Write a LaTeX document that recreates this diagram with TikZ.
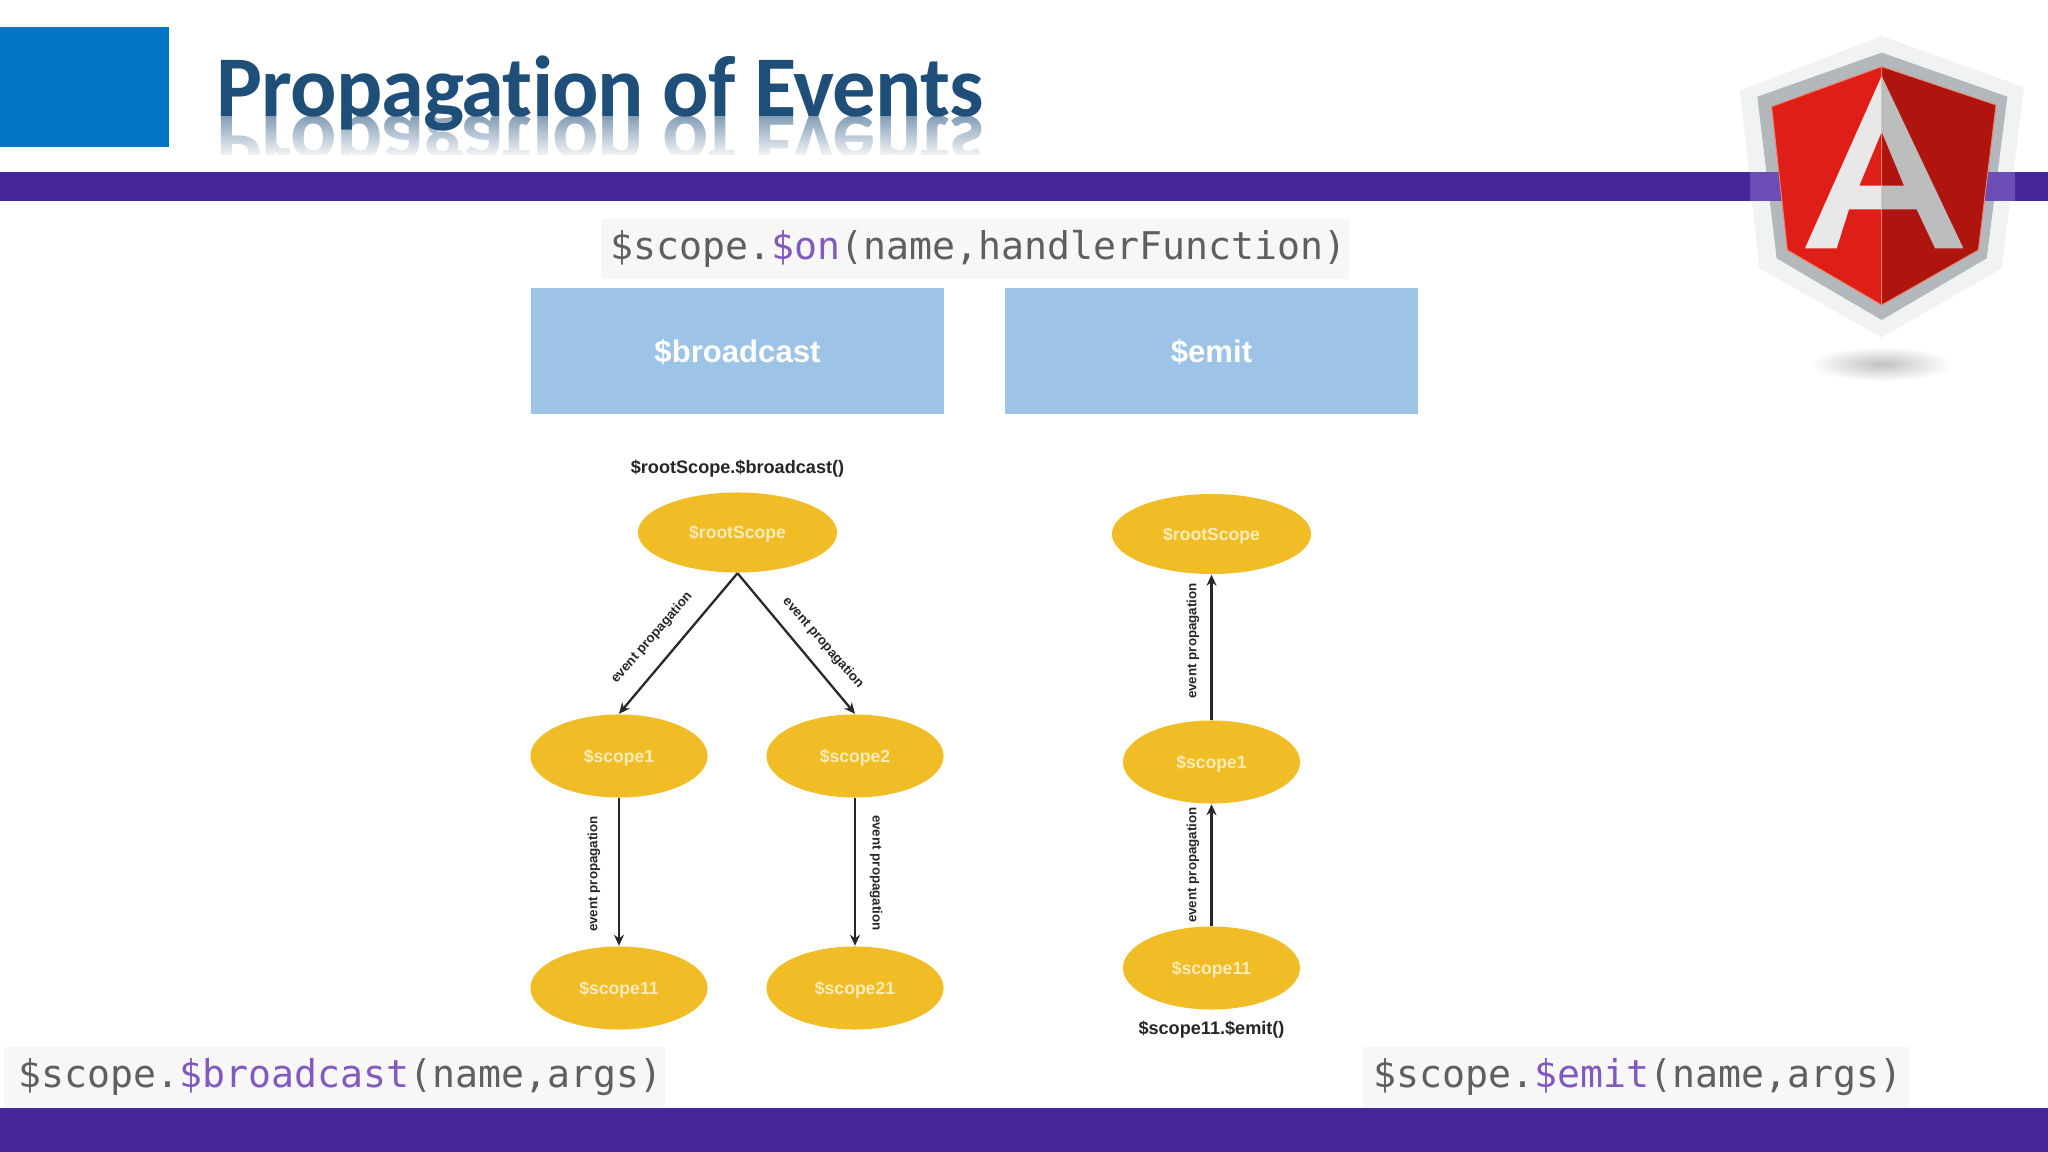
\documentclass[tikz,border=0pt]{standalone}
\usepackage{fontspec}
\setmainfont{Liberation Sans}
\newfontfamily\titlefont[LetterSpace=-1.1, RawFeature={-liga;-clig}]{Carlito}
\newfontfamily\codefont{DejaVu Sans Mono}
\definecolor{myBarColor}{RGB}{70,39,155}
\definecolor{myBarLight}{RGB}{106,78,181}
\definecolor{myBlockColor}{RGB}{0,117,196}
\definecolor{myTitleColor}{RGB}{31,78,121}
\definecolor{myHeadColor}{RGB}{157,195,230}
\definecolor{myScopeColor}{RGB}{240,189,39}
\definecolor{myScopeText}{RGB}{252,236,185}
\definecolor{myCodeColor}{RGB}{95,95,95}
\definecolor{myMethodColor}{RGB}{130,90,190}
\definecolor{myCodeBack}{RGB}{247,247,247}
\definecolor{myLineColor}{RGB}{40,40,40}
\definecolor{myHaloColor}{RGB}{241,243,243}
\definecolor{myBandColor}{RGB}{178,184,187}
\definecolor{myRedLeft}{RGB}{224,30,24}
\definecolor{myRedRight}{RGB}{176,20,14}
\definecolor{myRedEdge}{RGB}{240,130,105}
\definecolor{myLetterLeft}{RGB}{232,232,232}
\definecolor{myLetterRight}{RGB}{188,190,190}
\usetikzlibrary{arrows.meta, shapes.geometric, fadings}

\begin{document}
\begin{tikzpicture}[
  x=0.01cm, y=-0.01cm,
  >={Stealth[length=1.1mm, width=1mm]},
  bar/.style={fill=myBarColor},
  pagetitle/.style={anchor=base west, inner sep=0pt, text=myTitleColor,
               font=\titlefont\bfseries\fontsize{24.6}{28}\selectfont},
  codebox/.style={anchor=west, fill=myCodeBack, minimum height=6mm, inner ysep=0pt, text=myCodeColor,
               font=\codefont\fontsize{10.86}{12}\selectfont},
  headbox/.style={fill=myHeadColor, minimum width=41.3mm, minimum height=12.6mm, inner sep=0pt,
               text height=2.6mm, text depth=0.4mm,
               text=white, font=\bfseries\fontsize{8.85}{10}\selectfont},
  scopenode/.style={ellipse, fill=myScopeColor, minimum width=17.7mm, minimum height=8.3mm,
               inner sep=0pt, text height=1.5mm, text depth=0.24mm,
               text=myScopeText, font=\bfseries\fontsize{5}{6}\selectfont},
  rootnode/.style={scopenode, minimum width=19.9mm, minimum height=8mm},
  callname/.style={inner sep=0pt, text=black!85, font=\bfseries\fontsize{5.15}{6}\selectfont},
  evtlabel/.style={inner sep=0pt, text=myLineColor, font=\bfseries\fontsize{3.8}{5}\selectfont},
  edge/.style={->, line width=0.65pt, myLineColor}]
  \useasboundingbox (0,0) rectangle (2048,1152);
  \fill[white] (0,0) rectangle (2048,1152);
  % header
  \fill[myBlockColor] (0,27) rectangle (169,147);
  \begin{scope}
    \clip (210,117) rectangle (1100,155);
    \node[pagetitle, yscale=-1, transform shape, text=myTitleColor!75] (titlemirror) at (216,117) {Propagation of Events};
    \fill[white, path fading=north] (200,100) rectangle (1100,160);
  \end{scope}
  \node[pagetitle] (title) at (216,117) {Propagation of Events};
  \fill[bar] (0,1108) rectangle (2048,1152);
  % code lines
  \node[codebox, inner xsep=1mm, text width=72.8mm] (onbox) at (600,249) {\$scope.\textcolor{myMethodColor}{\$on}(name,handlerFunction)};
  \node[codebox, inner xsep=1.5mm, text width=63.1mm] (broadbox) at (3,1077) {\$scope.\textcolor{myMethodColor}{\$broadcast}(name,args)};
  \node[codebox, inner xsep=1.2mm, text width=52.4mm] (emitbox) at (1361,1077) {\$scope.\textcolor{myMethodColor}{\$emit}(name,args)};
  \node[headbox] (headb) at (737.5,351) {\$broadcast};
  \node[headbox] (heade) at (1211.5,351) {\$emit};
  % broadcast side
  \node[callname] (callb) at (737.5,469) {\$rootScope.\$broadcast()};
  \node[rootnode] (rootb) at (737.5,532.5) {\$rootScope};
  \node[scopenode] (sb1) at (619,756) {\$scope1};
  \node[scopenode] (sb2) at (855,756) {\$scope2};
  \node[scopenode] (sb11) at (619,988) {\$scope11};
  \node[scopenode] (sb21) at (855,988) {\$scope21};
  \draw[edge] (rootb.south)--(sb1.north);
  \draw[edge] (rootb.south)--(sb2.north);
  \draw[edge] (sb1.south)--(sb11.north);
  \draw[edge] (sb2.south)--(sb21.north);
  \node[evtlabel, rotate=49] (evt1) at (652,638) {event propagation};
  \node[evtlabel, rotate=-49] (evt2) at (823,643) {event propagation};
  \node[evtlabel, rotate=90] (evt3) at (594,874) {event propagation};
  \node[evtlabel, rotate=-90] (evt4) at (876,873) {event propagation};
  % emit side
  \node[rootnode] (roote) at (1211.5,534) {\$rootScope};
  \node[scopenode] (se1) at (1211.5,762) {\$scope1};
  \node[scopenode] (se11) at (1211.5,968) {\$scope11};
  \node[callname] (calle) at (1211.5,1030) {\$scope11.\$emit()};
  \draw[edge] (se1.north)--(roote.south);
  \draw[edge] (se11.north)--(se1.south);
  \node[evtlabel, rotate=90] (evt5) at (1193,641) {event propagation};
  \node[evtlabel, rotate=90] (evt6) at (1193,865) {event propagation};
  % shield, traced in crop coordinates
  \begin{scope}[shift={(1700,0)}, x=0.01cm/3, y=-0.01cm/3]
    \shade[inner color=black!24, outer color=white] (545,1092) ellipse (215 and 52);
    \fill[myHaloColor] (545,108)--(972,262)--(905,805)--(545,1012)--(178,805)--(120,272)--cycle;
    \fill[myBandColor] (545,158)--(922,290)--(860,775)--(545,960)--(230,775)--(172,290)--cycle;
  \end{scope}
  \fill[bar] (0,172) rectangle (2048,201);
  \begin{scope}[shift={(1700,0)}, x=0.01cm/3, y=-0.01cm/3]
    \fill[myBarLight] (150,517) rectangle (945,603);
    \fill[myRedLeft, draw=myRedEdge, line width=0.25pt] (545,200)--(215,320)--(262,750)--(545,915)--cycle;
    \fill[myRedRight, draw=myRedEdge, line width=0.25pt] (545,200)--(888,315)--(835,750)--(545,915)--cycle;
    \fill[myLetterLeft] (545,228)--(315,745)--(410,745)--(447,628)--(545,628)--(545,557)--(478,557)--(545,395)--cycle;
    \fill[myLetterRight] (545,228)--(790,745)--(705,745)--(650,628)--(545,628)--(545,557)--(612,557)--(545,395)--cycle;
  \end{scope}
\end{tikzpicture}
\end{document}
